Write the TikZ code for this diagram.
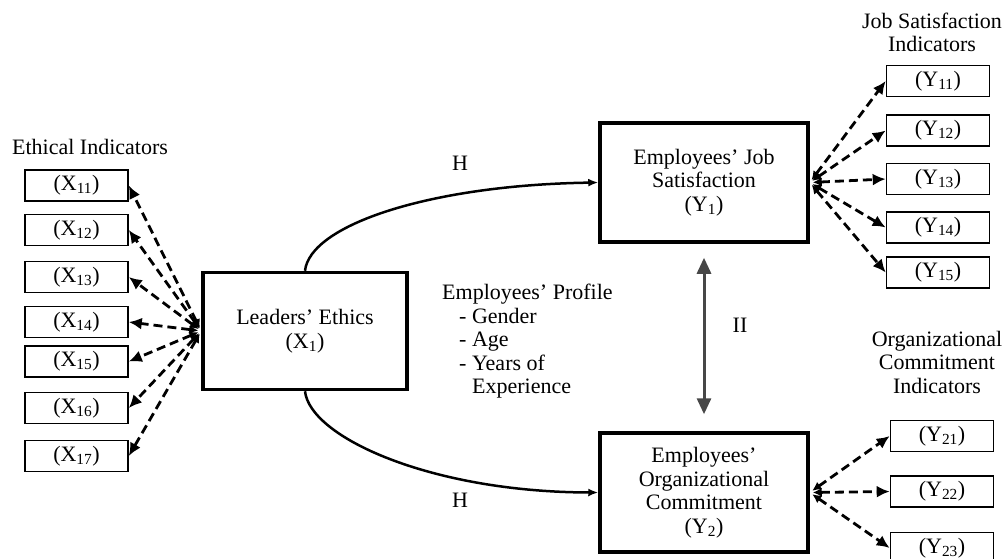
\documentclass[tikz,border=0pt]{standalone}
\usepackage{fontspec}
\setmainfont{Liberation Serif}
\usetikzlibrary{arrows.meta}

\begin{document}
\begin{tikzpicture}[x=10pt,y=-10pt,font=\fontsize{22}{23.5}\selectfont,
  ind/.style={inner sep=0mm,draw,line width=1.6pt,minimum width=103pt,minimum height=31pt},
  var/.style={inner sep=0mm,draw,line width=3.5pt,align=center},
  link/.style={dash pattern=on 9pt off 5pt,line width=2.8pt,shorten <=3pt,
    {Latex[length=9pt,width=9pt]}-{Latex[length=13pt,width=12pt]}},
  hyp/.style={line width=2.5pt,-{Latex[length=10pt,width=8pt]}},
  dbl/.style={draw=black!72,line width=3pt,shorten <=14pt,shorten >=17pt,
    {Triangle[length=16pt,width=14pt]}-{Triangle[length=16pt,width=14pt]}}]
\useasboundingbox (0,0) rectangle (100.6,55.8);

\node[var,minimum width=204pt,minimum height=117pt] (lead) at (30.5,33.1) {Leaders' Ethics\\(X\textsubscript{1})};
\node[var,minimum width=208pt,minimum height=119pt] (js) at (70.4,18.25) {Employees' Job\\Satisfaction\\(Y\textsubscript{1})};
\node[var,minimum width=208pt,minimum height=119pt] (oc) at (70.4,49.25) {Employees'\\Organizational\\Commitment\\(Y\textsubscript{2})};

\foreach \y/\n/\t in {18.55/x11/11, 23.0/x12/12, 27.7/x13/13, 32.2/x14/14, 36.15/x15/15, 40.8/x16/16, 45.6/x17/17}
  \node[ind] (\n) at (7.65,\y) {(X\textsubscript{\t})};
\foreach \y/\n/\t in {8.1/y11/11, 13.05/y12/12, 17.9/y13/13, 22.75/y14/14, 27.25/y15/15}
  \node[ind] (\n) at (93.8,\y) {(Y\textsubscript{\t})};
\foreach \y/\n/\t in {43.6/y21/21, 49.15/y22/22, 54.8/y23/23}
  \node[ind] (\n) at (94.2,\y) {(Y\textsubscript{\t})};

\node (ethtitle) at (9.0,14.7) {Ethical Indicators};
\node[align=center] (jstitle) at (93.2,3.25) {Job Satisfaction\\Indicators};
\node[align=center] (octitle) at (93.7,36.2) {Organizational\\Commitment\\Indicators};
\node[align=left,anchor=west,inner sep=0pt] (profile) at (44.2,34.15) {Employees' Profile\\\hspace*{17pt}- Gender\\\hspace*{17pt}- Age\\\hspace*{17pt}- Years of\\\hspace*{30pt}Experience};
\node (h1) at (46.0,16.3) {H};
\node (h2) at (46.0,50.0) {H};
\node (h3) at (74.0,32.5) {II};

\foreach \t in {x11,x12,x13,x14,x15,x16,x17}
  \draw[link] (lead.west) -- (\t.east);
\foreach \t in {y11,y12,y13,y14,y15}
  \draw[link] (js.east) -- (\t.west);
\foreach \t in {y21,y22,y23}
  \draw[link] (oc.east) -- (\t.west);

\draw[hyp] (lead.north) .. controls (31.0,22.5) and (43.0,18.5) .. (js.west);
\draw[hyp] (lead.south) .. controls (31.0,43.7) and (43.0,49.2) .. (oc.west);
\draw[dbl] (js.south) -- (oc.north);

\end{tikzpicture}
\end{document}
